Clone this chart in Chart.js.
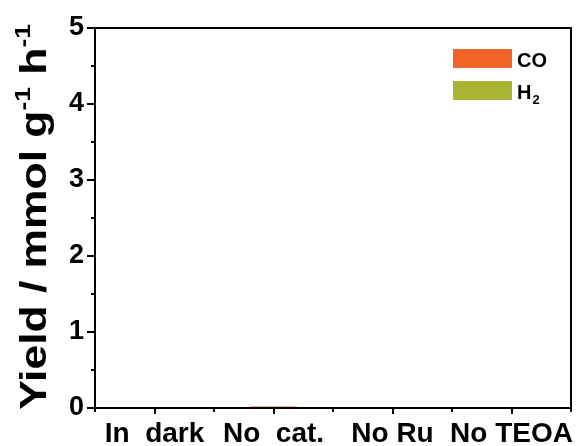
<!DOCTYPE html>
<html>
<head>
<meta charset="utf-8">
<script src="https://cdn.jsdelivr.net/npm/chart.js@4/dist/chart.umd.min.js"></script>
<style>
  html, body { margin: 0; padding: 0; background: #ffffff; }
  #wrap { width: 588px; height: 446px; }
</style>
</head>
<body>
<div id="wrap"><canvas id="c" width="588" height="446"></canvas></div>
<script>
// Reaction conditions (control experiments)
const categories = ['In  dark', 'No  cat.', 'No Ru', 'No TEOA'];
// Product yields, mmol g^-1 h^-1
const coYield = [0, 0.02, 0, 0];
const h2Yield = [0, 0, 0, 0];
// Axis range and tick step
const yMin = 0, yMax = 5, yStep = 1;

const FONT = '"Liberation Sans", Arial, Helvetica, sans-serif';
const CO_COLOR = '#F26529';
const H2_COLOR = '#A9B531';

// Draws the frame, minor ticks, the rotated axis title and the inset legend
const decorations = {
  id: 'decorations',
  afterDraw(chart) {
    const ctx = chart.ctx;
    const a = chart.chartArea;
    const x = chart.scales.x, y = chart.scales.y;
    ctx.save();
    ctx.strokeStyle = '#000';
    ctx.lineWidth = 2;
    // top and right edges of the frame
    ctx.beginPath();
    ctx.moveTo(a.left, a.top);
    ctx.lineTo(a.right, a.top);
    ctx.lineTo(a.right, a.bottom);
    ctx.stroke();

    // minor ticks on y
    ctx.beginPath();
    for (let v = yMin + yStep / 2; v < yMax; v += yStep) {
      const py = Math.round(y.getPixelForValue(v));
      ctx.moveTo(a.left, py);
      ctx.lineTo(a.left - 4, py);
    }
    // minor ticks on x, between categories
    const half = (x.getPixelForTick(1) - x.getPixelForTick(0)) / 2;
    for (let i = 0; i <= categories.length; i++) {
      const px = Math.round(x.getPixelForTick(Math.min(i, categories.length - 1)) + (i < categories.length ? -half : half));
      ctx.moveTo(px, a.bottom);
      ctx.lineTo(px, a.bottom + 4);
    }
    ctx.stroke();

    // y axis title with superscripts
    const big = 'bold 37px ' + FONT;
    const small = 'bold 22px ' + FONT;
    const parts = [
      ['Yield / mmol g', big, 0],
      ['-1', small, -16],
      [' h', big, 0],
      ['-1', small, -16]
    ];
    let total = 0;
    parts.forEach(p => { ctx.font = p[1]; total += ctx.measureText(p[0]).width; });
    const cy = (a.top + a.bottom) / 2 - 1;
    ctx.translate(46, cy);
    ctx.rotate(-Math.PI / 2);
    ctx.scale(1.2, 1);
    ctx.fillStyle = '#000';
    ctx.textBaseline = 'alphabetic';
    ctx.textAlign = 'left';
    let tx = -total / 2;
    parts.forEach(p => {
      ctx.font = p[1];
      ctx.fillText(p[0], tx, p[2]);
      tx += ctx.measureText(p[0]).width;
    });
    ctx.restore();

    // legend in the upper right corner
    ctx.save();
    const lx = 453, bw = 59, bh = 19;
    chart.data.datasets.forEach((ds, i) => {
      const ly = 49 + i * 32;
      ctx.fillStyle = ds.backgroundColor;
      ctx.fillRect(lx, ly, bw, bh);
      ctx.fillStyle = '#000';
      ctx.textBaseline = 'alphabetic';
      const m = ds.label.match(/^(\D+)(\d)$/);
      ctx.font = 'bold 20px ' + FONT;
      const base = ly + bh - 1;
      if (m) {
        ctx.fillText(m[1], 517, base);
        const w = ctx.measureText(m[1]).width;
        ctx.font = 'bold 13px ' + FONT;
        ctx.fillText(m[2], 517 + w + 1, base + 5);
      } else {
        ctx.fillText(ds.label, 517, base);
      }
    });
    ctx.restore();
  }
};

new Chart(document.getElementById('c'), {
  type: 'bar',
  data: {
    labels: categories,
    datasets: [
      { label: 'CO', data: coYield, backgroundColor: CO_COLOR, stack: 'p', borderWidth: 0 },
      { label: 'H2', data: h2Yield, backgroundColor: H2_COLOR, stack: 'p', borderWidth: 0 }
    ]
  },
  options: {
    responsive: false,
    devicePixelRatio: 1,
    animation: false,
    layout: { padding: { left: 0, top: 28, right: 17, bottom: 0 } },
    datasets: { bar: { barPercentage: 0.4, categoryPercentage: 1 } },
    plugins: { legend: { display: false }, tooltip: { enabled: false } },
    scales: {
      x: {
        stacked: true,
        grid: { offset: false, drawOnChartArea: false, drawTicks: true, tickLength: 6, color: '#000', lineWidth: 2 },
        border: { display: true, color: '#000', width: 2 },
        ticks: { color: '#000', font: { family: FONT, size: 28, weight: 'bold' }, padding: 3, maxRotation: 0, autoSkip: false },
        afterFit(scale) { scale.height = 38; }
      },
      y: {
        stacked: true,
        min: yMin, max: yMax,
        grid: { drawOnChartArea: false, drawTicks: true, tickLength: 8, color: '#000', lineWidth: 2 },
        border: { display: true, color: '#000', width: 2 },
        ticks: { stepSize: yStep, color: '#000', font: { family: FONT, size: 27, weight: 'bold' }, padding: 3 },
        afterFit(scale) { scale.width = 95; }
      }
    }
  },
  plugins: [decorations]
});
</script>
</body>
</html>
